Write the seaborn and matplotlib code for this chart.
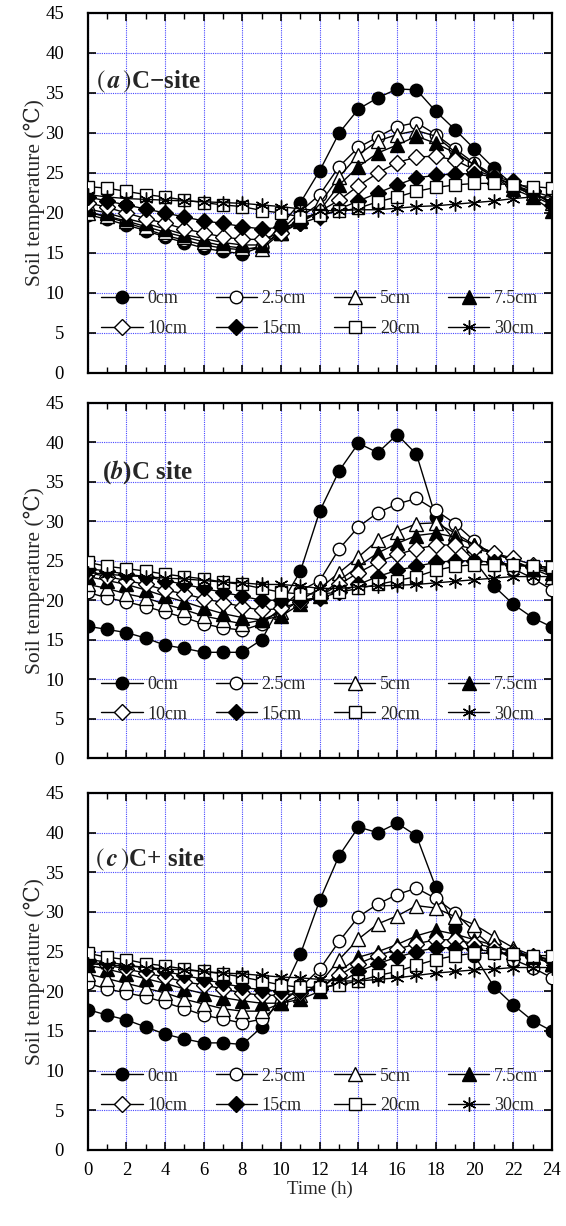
import matplotlib
matplotlib.use("Agg")
import matplotlib.pyplot as plt
import seaborn as sns
import numpy as np
from matplotlib.lines import Line2D
from matplotlib.ticker import MultipleLocator

hours = list(range(25))
depths = ["0cm", "2.5cm", "5cm", "7.5cm", "10cm", "15cm", "20cm", "30cm"]
panel_titles = [r"$(\,\mathbfit{a}\,)$C−site", r"($\mathbfit{b}$)C site", r"$(\,\mathbfit{c}\,)$C+ site"]
x_ticks = list(range(0, 25, 2))
y_ticks = list(range(0, 46, 5))

# Panel (a) C- site
a_0cm = [19.8, 19.2, 18.5, 17.8, 17.0, 16.3, 15.6, 15.2, 14.9, 15.8, 18.5, 21.3, 25.3, 30.0, 33.0, 34.4, 35.5, 35.4, 32.7, 30.4, 28.0, 25.6, 23.5, 22.2, 21.0]
a_2p5cm = [20.2, 19.5, 18.8, 18.0, 17.2, 16.6, 16.0, 15.6, 15.4, 15.8, 17.8, 20.2, 22.3, 25.8, 28.2, 29.5, 30.8, 31.3, 29.8, 28.0, 26.2, 24.7, 23.3, 22.3, 21.5]
a_5cm = [20.0, 19.6, 19.0, 18.3, 17.6, 17.0, 16.4, 15.9, 15.6, 15.5, 17.5, 19.5, 21.2, 24.5, 27.3, 29.0, 29.8, 30.3, 29.6, 27.6, 26.0, 24.5, 23.5, 22.5, 21.3]
a_7p5cm = [20.5, 20.0, 19.3, 18.7, 18.0, 17.3, 16.8, 16.3, 16.0, 16.0, 17.5, 19.0, 20.3, 23.5, 25.8, 27.5, 28.5, 29.6, 28.7, 27.5, 26.0, 24.5, 23.0, 22.0, 20.3]
a_10cm = [21.3, 20.7, 20.0, 19.3, 18.7, 18.0, 17.5, 17.0, 16.7, 16.7, 17.5, 18.8, 20.2, 21.6, 23.4, 25.0, 26.3, 27.0, 27.1, 26.6, 25.4, 24.5, 23.5, 22.7, 22.0]
a_15cm = [22.0, 21.5, 21.0, 20.5, 20.0, 19.5, 19.0, 18.7, 18.3, 18.0, 18.2, 18.7, 19.5, 20.5, 21.5, 22.5, 23.5, 24.4, 24.7, 24.9, 24.9, 24.5, 24.0, 22.8, 21.0]
a_20cm = [23.3, 23.1, 22.7, 22.3, 22.0, 21.6, 21.3, 21.0, 20.8, 20.3, 20.0, 19.5, 19.8, 20.2, 20.6, 21.4, 22.0, 22.7, 23.2, 23.5, 23.7, 23.7, 23.5, 23.3, 23.1]
a_30cm = [22.3, 22.0, 21.8, 21.7, 21.6, 21.5, 21.4, 21.3, 21.2, 21.0, 20.8, 20.5, 20.3, 20.3, 20.4, 20.4, 20.6, 20.8, 20.9, 21.1, 21.3, 21.5, 21.8, 22.0, 22.0]

# Panel (b) C site
b_0cm = [16.7, 16.3, 15.9, 15.2, 14.3, 13.9, 13.4, 13.4, 13.4, 15.0, 19.5, 23.7, 31.3, 36.4, 39.9, 38.7, 41.0, 38.5, 30.5, 27.5, 25.0, 21.8, 19.5, 17.8, 16.6]
b_2p5cm = [21.0, 20.3, 19.8, 19.2, 18.5, 17.8, 17.0, 16.5, 16.2, 17.0, 19.0, 21.2, 22.5, 26.5, 29.3, 31.1, 32.2, 32.9, 31.4, 29.7, 27.5, 25.5, 24.0, 22.8, 21.3]
b_5cm = [22.0, 21.5, 20.8, 20.3, 19.5, 18.8, 18.0, 17.5, 17.0, 17.5, 18.5, 20.0, 21.5, 23.5, 25.5, 27.6, 28.7, 29.7, 29.8, 28.5, 27.0, 26.0, 25.0, 24.0, 23.0]
b_7p5cm = [23.0, 22.5, 22.0, 21.3, 20.5, 19.8, 19.0, 18.3, 17.8, 17.5, 18.0, 19.5, 20.5, 22.5, 24.3, 26.0, 27.2, 28.2, 28.5, 28.0, 27.0, 26.0, 25.0, 24.0, 23.5]
b_10cm = [23.5, 23.0, 22.5, 22.0, 21.3, 20.8, 20.2, 19.7, 19.2, 18.7, 19.0, 19.8, 20.5, 22.0, 23.5, 24.8, 25.8, 26.5, 27.0, 27.0, 26.5, 26.0, 25.3, 24.5, 24.0]
b_15cm = [24.0, 23.7, 23.3, 23.0, 22.5, 22.0, 21.5, 21.0, 20.5, 20.0, 20.0, 20.0, 20.3, 21.0, 22.0, 23.0, 23.8, 24.3, 24.8, 25.0, 25.0, 24.8, 24.5, 24.2, 23.8]
b_20cm = [24.8, 24.3, 24.0, 23.7, 23.3, 23.0, 22.7, 22.3, 22.0, 21.5, 21.0, 20.8, 20.8, 21.0, 21.5, 22.0, 22.5, 23.0, 23.8, 24.3, 24.5, 24.5, 24.5, 24.3, 24.2]
b_30cm = [23.5, 23.3, 23.1, 23.0, 22.8, 22.7, 22.5, 22.3, 22.2, 22.0, 22.0, 21.8, 21.5, 21.5, 21.7, 21.8, 21.9, 22.0, 22.2, 22.4, 22.6, 22.8, 23.0, 23.0, 23.0]

# Panel (c) C+ site
c_0cm = [17.7, 17.0, 16.4, 15.5, 14.6, 14.0, 13.5, 13.5, 13.3, 15.5, 19.5, 24.7, 31.5, 37.1, 40.7, 40.0, 41.2, 39.6, 33.1, 28.0, 24.5, 20.6, 18.3, 16.3, 15.0]
c_2p5cm = [21.0, 20.3, 19.8, 19.3, 18.6, 17.8, 17.0, 16.5, 16.0, 16.5, 18.5, 20.5, 22.8, 26.3, 29.4, 31.0, 32.2, 33.0, 31.7, 29.9, 27.5, 25.5, 24.0, 23.0, 21.7]
c_5cm = [22.2, 21.6, 21.0, 20.4, 19.8, 19.0, 18.4, 17.8, 17.5, 17.5, 18.5, 19.5, 21.0, 24.0, 26.6, 28.5, 29.5, 30.8, 30.5, 29.4, 28.4, 26.9, 25.5, 24.5, 23.5]
c_7p5cm = [23.3, 22.8, 22.2, 21.6, 21.0, 20.3, 19.7, 19.2, 18.8, 18.5, 18.5, 19.0, 20.0, 22.5, 24.3, 25.0, 25.9, 27.0, 27.7, 27.2, 26.5, 25.8, 25.0, 24.3, 23.5]
c_10cm = [23.8, 23.3, 22.8, 22.3, 21.8, 21.2, 20.8, 20.3, 19.8, 19.5, 19.5, 19.8, 20.5, 22.0, 23.5, 24.5, 25.3, 26.0, 26.5, 26.5, 26.0, 25.5, 25.0, 24.5, 24.0]
c_15cm = [24.0, 23.7, 23.3, 23.0, 22.5, 22.0, 21.5, 21.0, 20.5, 20.2, 20.0, 20.0, 20.3, 21.0, 22.5, 23.5, 24.3, 25.0, 25.5, 25.5, 25.3, 25.0, 24.7, 24.3, 24.0]
c_20cm = [24.8, 24.3, 24.0, 23.5, 23.2, 22.8, 22.5, 22.2, 21.8, 21.3, 20.8, 20.5, 20.5, 20.8, 21.3, 22.0, 22.5, 23.3, 24.0, 24.5, 24.8, 24.8, 24.7, 24.5, 24.5]
c_30cm = [23.5, 23.3, 23.2, 23.0, 22.8, 22.7, 22.5, 22.3, 22.2, 22.0, 21.8, 21.7, 21.5, 21.3, 21.3, 21.5, 21.7, 22.0, 22.3, 22.5, 22.7, 22.8, 23.0, 23.0, 23.0]

panels = [
    [a_0cm, a_2p5cm, a_5cm, a_7p5cm, a_10cm, a_15cm, a_20cm, a_30cm],
    [b_0cm, b_2p5cm, b_5cm, b_7p5cm, b_10cm, b_15cm, b_20cm, b_30cm],
    [c_0cm, c_2p5cm, c_5cm, c_7p5cm, c_10cm, c_15cm, c_20cm, c_30cm],
]

# styles: (marker, facecolor)
styles = [("o", "black"), ("o", "white"), ("^", "white"), ("^", "black"),
          ("D", "white"), ("D", "black"), ("s", "white"), ((6, 2, 0), "black")]
msizes = [9, 9, 9.5, 9.5, 8, 8, 8.5, 10]

sns.set_theme(style="white")
plt.rcParams["font.family"] = ["Liberation Serif", "DejaVu Serif", "Noto Sans CJK SC"]
plt.rcParams["mathtext.fontset"] = "stix"

fig = plt.figure(figsize=(5.66, 12.26), dpi=100)
left, width = 0.155, 0.82
boxes = [(0.6958, 0.2936), (0.3817, 0.2896), (0.062, 0.2912)]
title_pos = [(0.45, 36.4), (0.75, 36.2), (0.4, 36.6)]
grid_color = "#4848ff"

# legend order: matplotlib fills column-wise, reference reads row-wise
leg_order = [0, 4, 1, 5, 2, 6, 3, 7]

for i, (series, (b, h)) in enumerate(zip(panels, boxes)):
    ax = fig.add_axes([left, b, width, h])
    for name, vals, (mk, fc), ms in zip(depths, series, styles, msizes):
        sns.lineplot(x=hours, y=vals, ax=ax, color="black", lw=1.0,
                     marker=mk, markersize=ms, markerfacecolor=fc,
                     markeredgecolor="black", markeredgewidth=1.0,
                     legend=False, zorder=3)
    ax.set_xlim(0, 24)
    ax.set_ylim(0, 45)
    ax.set_xticks(x_ticks)
    ax.set_yticks(y_ticks)
    ax.xaxis.set_minor_locator(MultipleLocator(1))
    ax.grid(True, which="major", color=grid_color, linestyle=(0, (1, 1)), linewidth=0.8, zorder=0)
    ax.tick_params(axis="both", which="both", direction="in", top=True, right=True,
                   bottom=True, left=True, colors="black", labelsize=13.5)
    ax.tick_params(axis="y", pad=17)
    ax.tick_params(axis="x", pad=9)
    ax.tick_params(which="major", length=6, width=1.2)
    ax.tick_params(which="minor", length=4, width=1.0)
    for s in ax.spines.values():
        s.set_color("black")
        s.set_linewidth(1.6)
    if i < 2:
        ax.tick_params(labelbottom=False)
    else:
        ax.set_xlabel("Time (h)", fontsize=13.5, labelpad=1)
    ax.set_ylabel("Soil temperature (℃)", fontsize=15.5, labelpad=0)
    ax.text(title_pos[i][0], title_pos[i][1], panel_titles[i], fontsize=18,
            fontweight="bold", va="center", ha="left", zorder=5)
    handles = [Line2D([0], [0], color="black", lw=1.0, marker=mk, markersize=ms,
                      markerfacecolor=fc, markeredgecolor="black")
               for (mk, fc), ms in zip(styles, msizes)]
    leg = ax.legend([handles[k] for k in leg_order], [depths[k] for k in leg_order],
                    ncol=4, loc="center", bbox_to_anchor=(0.5, 0.165),
                    frameon=False, fontsize=13, handlelength=2.3, handletextpad=0.25,
                    columnspacing=1.55, labelspacing=0.7)

fig.savefig("out.png", dpi=100)
